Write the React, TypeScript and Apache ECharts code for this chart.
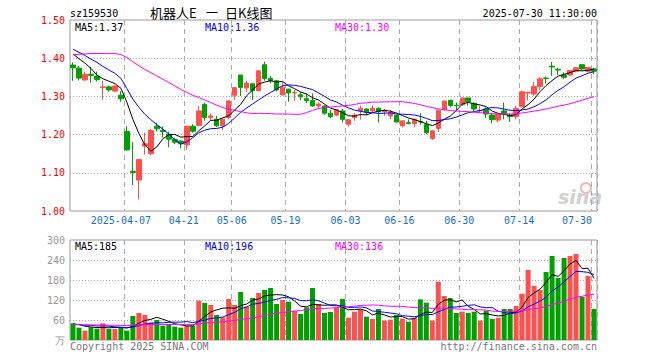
import React, { useEffect, useRef } from 'react';
import * as echarts from 'echarts';

// ---- data ----
const dates = ['2025-03-24','2025-03-25','2025-03-26','2025-03-27','2025-03-28','2025-03-31','2025-04-01','2025-04-02','2025-04-03','2025-04-07','2025-04-08','2025-04-09','2025-04-10','2025-04-11','2025-04-14','2025-04-15','2025-04-16','2025-04-17','2025-04-18','2025-04-21','2025-04-22','2025-04-23','2025-04-24','2025-04-25','2025-04-28','2025-04-29','2025-04-30','2025-05-06','2025-05-07','2025-05-08','2025-05-09','2025-05-12','2025-05-13','2025-05-14','2025-05-15','2025-05-16','2025-05-19','2025-05-20','2025-05-21','2025-05-22','2025-05-23','2025-05-26','2025-05-27','2025-05-28','2025-05-29','2025-05-30','2025-06-03','2025-06-04','2025-06-05','2025-06-06','2025-06-09','2025-06-10','2025-06-11','2025-06-12','2025-06-13','2025-06-16','2025-06-17','2025-06-18','2025-06-19','2025-06-20','2025-06-23','2025-06-24','2025-06-25','2025-06-26','2025-06-27','2025-06-30','2025-07-01','2025-07-02','2025-07-03','2025-07-04','2025-07-07','2025-07-08','2025-07-09','2025-07-10','2025-07-11','2025-07-14','2025-07-15','2025-07-16','2025-07-17','2025-07-18','2025-07-21','2025-07-22','2025-07-23','2025-07-24','2025-07-25','2025-07-28','2025-07-29','2025-07-30'];

const opens = [1.382,1.374,1.343,1.358,1.353,1.323,1.325,1.314,1.303,1.208,
  1.104,1.081,1.170,1.150,1.222,1.211,1.201,1.187,1.183,1.173,
  1.222,1.224,1.279,1.245,1.240,1.223,1.245,1.303,1.356,1.322,
  1.333,1.315,1.383,1.347,1.341,1.304,1.319,1.309,1.304,1.294,
  1.289,1.275,1.275,1.256,1.251,1.262,1.227,1.245,1.262,1.267,
  1.262,1.269,1.260,1.249,1.251,1.223,1.231,1.229,1.234,1.227,
  1.190,1.216,1.265,1.290,1.277,1.278,1.296,1.282,1.262,1.267,
  1.251,1.238,1.262,1.251,1.247,1.273,1.309,1.306,1.326,1.348,
  1.379,1.371,1.356,1.356,1.366,1.383,1.366,1.372];

const closes = [1.375,1.348,1.358,1.355,1.344,1.325,1.317,1.327,1.294,1.160,
  1.101,1.135,1.176,1.211,1.215,1.208,1.188,1.180,1.176,1.222,
  1.209,1.262,1.245,1.249,1.223,1.240,1.288,1.323,1.323,1.335,
  1.315,1.367,1.347,1.341,1.317,1.324,1.309,1.310,1.299,1.289,
  1.275,1.280,1.256,1.247,1.265,1.240,1.239,1.251,1.269,1.258,
  1.269,1.260,1.262,1.258,1.233,1.236,1.229,1.240,1.233,1.205,
  1.210,1.264,1.288,1.276,1.276,1.296,1.286,1.267,1.263,1.254,
  1.239,1.254,1.255,1.247,1.268,1.312,1.311,1.326,1.346,1.347,
  1.377,1.369,1.350,1.368,1.375,1.372,1.376,1.366];

const lows = [1.341,1.342,1.341,1.336,1.339,1.291,1.312,1.312,1.286,1.158,
  1.068,1.030,1.148,1.146,1.208,1.192,1.167,1.175,1.164,1.160,
  1.205,1.222,1.236,1.236,1.220,1.212,1.240,1.291,1.301,1.312,
  1.291,1.313,1.341,1.334,1.313,1.302,1.286,1.289,1.290,1.283,
  1.273,1.266,1.252,1.243,1.248,1.232,1.221,1.236,1.239,1.251,
  1.260,1.232,1.249,1.240,1.232,1.219,1.227,1.219,1.226,1.201,
  1.186,1.207,1.263,1.271,1.262,1.276,1.276,1.260,1.256,1.244,
  1.230,1.232,1.240,1.233,1.240,1.271,1.289,1.302,1.317,1.334,
  1.354,1.356,1.346,1.354,1.363,1.368,1.363,1.359];

const highs = [1.389,1.380,1.365,1.377,1.365,1.341,1.328,1.330,1.314,1.222,
  1.180,1.136,1.205,1.214,1.231,1.222,1.208,1.192,1.185,1.222,
  1.227,1.275,1.284,1.255,1.249,1.242,1.290,1.324,1.356,1.340,
  1.333,1.367,1.391,1.354,1.343,1.337,1.320,1.317,1.311,1.308,
  1.308,1.284,1.275,1.265,1.267,1.267,1.240,1.256,1.276,1.269,
  1.277,1.271,1.267,1.264,1.251,1.236,1.240,1.242,1.256,1.236,
  1.210,1.264,1.288,1.290,1.284,1.296,1.296,1.284,1.276,1.271,
  1.254,1.254,1.284,1.255,1.276,1.315,1.311,1.337,1.350,1.352,
  1.390,1.375,1.363,1.368,1.375,1.383,1.376,1.375];

// volume, 万
const volumes = [50,37,28,38,34,50,33,33,37,28,
  72,81,75,53,60,43,48,40,37,43,
  43,118,111,105,75,68,123,105,144,100,
  126,141,150,156,108,120,115,87,78,98,
  156,108,81,84,97,123,67,85,92,70,
  63,93,58,61,75,64,55,66,122,112,
  58,175,132,126,81,85,81,85,58,88,
  63,67,93,93,102,139,210,162,150,204,
  252,186,246,252,258,129,192,93];

// 29 sessions before the first shown day (estimated from the start of the MA curves)
const prevCloses = [1.33,1.32,1.33,1.34,1.33,1.32,1.33,1.36,1.40,1.43,
  1.45,1.47,1.46,1.48,1.46,1.45,1.44,1.46,1.45,1.44,
  1.43,1.44,1.45,1.43,1.43,1.41,1.415,1.425,1.43];
const prevVolumes = [48,52,40,45,55,42,38,50,46,44,
  60,41,39,47,52,43,45,38,50,42,
  48,46,40,55,47,44,52,50,42];

const labelDates = ['2025-04-07','2025-04-21','2025-05-06','2025-05-19','2025-06-03','2025-06-16','2025-06-30','2025-07-14','2025-07-30'];
const maPeriods = [5, 10, 30];
const maColors = ['#000000', '#0000ff', '#ff00ff'];

const RED = '#ff5050';
const GREEN = '#00a000';
const MONO = 'DejaVu Sans Mono';

function movingAvg(all: number[], n: number, offset: number): number[] {
  const out: number[] = [];
  for (let end = offset; end < all.length; end++) {
    let s = 0;
    for (let k = end - n + 1; k <= end; k++) s += all[k];
    out.push(s / n);
  }
  return out;
}

function buildOption() {
  const allCloses = prevCloses.concat(closes);
  const allVols = prevVolumes.concat(volumes);
  const off = prevCloses.length;
  const priceMA = maPeriods.map((p) => movingAvg(allCloses, p, off));
  const volMA = maPeriods.map((p) => movingAvg(allVols, p, off));
  const labelIdx = new Set(labelDates.map((d) => dates.indexOf(d)));
  const firstIdx = dates.indexOf(labelDates[0]);
  const lastIdx = dates.length - 1;

  const candleData = dates.map((_, i) => [opens[i], closes[i], lows[i], highs[i]]);
  const volData = volumes.map((v, i) => ({
    value: v,
    itemStyle: { color: closes[i] >= opens[i] ? RED : GREEN },
  }));

  const splitV = {
    show: true,
    interval: (i: number) => labelIdx.has(i),
    lineStyle: { color: '#aaaaaa', type: [5, 4], width: 1 },
  };

  const xCommon = {
    type: 'category',
    data: dates,
    boundaryGap: true,
    axisLine: { show: false },
    axisTick: { show: false },
    splitLine: splitV,
  };

  const lastP = priceMA.map((a) => a[a.length - 1]);
  const lastV = volMA.map((a) => a[a.length - 1]);
  const legendX = [75, 205, 335];
  const font = `10px "${MONO}"`;

  const graphics: any[] = [
    { type: 'text', x: 70, y: 13, style: { text: 'sz159530', fill: '#000', font, textVerticalAlign: 'middle' } },
    { type: 'text', x: 150, y: 12, style: { text: '机器人E', fill: '#000', font: '13px "Noto Sans CJK SC"', textVerticalAlign: 'middle' } },
    { type: 'text', x: 212, y: 12, style: { text: '一', fill: '#000', font: '12px "Noto Sans CJK SC"', textAlign: 'center', textVerticalAlign: 'middle' } },
    { type: 'text', x: 225, y: 12, style: { text: '日K线图', fill: '#000', font: '13px "Noto Sans CJK SC"', textVerticalAlign: 'middle' } },
    { type: 'text', x: 597, y: 13, style: { text: '2025-07-30 11:30:00', fill: '#000', font, textAlign: 'right', textVerticalAlign: 'middle' } },
    { type: 'text', x: 70, y: 346, style: { text: 'Copyright 2025 SINA.COM', fill: '#777', font, textVerticalAlign: 'middle' } },
    { type: 'text', x: 597, y: 346, style: { text: 'http://finance.sina.com.cn', fill: '#777', font, textAlign: 'right', textVerticalAlign: 'middle' } },
    { type: 'circle', shape: { cx: 586, cy: 188, r: 5 }, style: { fill: 'none', stroke: '#f3b8b8', lineWidth: 2 } },
    { type: 'text', x: 580, y: 197, style: { text: 'sina', fill: '#d0d0d0', font: 'italic bold 19px "DejaVu Sans"', textAlign: 'center', textVerticalAlign: 'middle' } },
  ];
  maPeriods.forEach((p, k) => {
    graphics.push({ type: 'text', x: legendX[k], y: 27, style: { text: `MA${p}:${lastP[k].toFixed(2)}`, fill: maColors[k], font, textVerticalAlign: 'middle' } });
    graphics.push({ type: 'text', x: legendX[k], y: 246, style: { text: `MA${p}:${Math.round(lastV[k])}`, fill: maColors[k], font, textVerticalAlign: 'middle' } });
  });

  const series: any[] = [
    {
      type: 'candlestick',
      xAxisIndex: 0,
      yAxisIndex: 0,
      data: candleData,
      barWidth: 5,
      itemStyle: { color: RED, color0: GREEN, borderColor: RED, borderColor0: GREEN, borderWidth: 1 },
      z: 2,
    },
    {
      type: 'bar',
      xAxisIndex: 1,
      yAxisIndex: 1,
      data: volData,
      barWidth: 5,
      z: 2,
    },
  ];
  maPeriods.forEach((p, k) => {
    series.push({
      type: 'line', xAxisIndex: 0, yAxisIndex: 0, data: priceMA[k], showSymbol: false, symbol: 'none',
      lineStyle: { color: maColors[k], width: 1 }, z: 3,
    });
    series.push({
      type: 'line', xAxisIndex: 1, yAxisIndex: 1, data: volMA[k], showSymbol: false, symbol: 'none',
      lineStyle: { color: maColors[k], width: 1 }, z: 3,
    });
  });

  return {
    animation: false,
    backgroundColor: '#ffffff',
    textStyle: { fontFamily: MONO },
    grid: [
      { left: 70, top: 20, width: 527, height: 191, show: true, borderColor: '#999999', borderWidth: 1, backgroundColor: 'transparent' },
      { left: 70, top: 240, width: 527, height: 100, show: true, borderColor: '#999999', borderWidth: 1, backgroundColor: 'transparent' },
    ],
    xAxis: [
      {
        ...xCommon,
        gridIndex: 0,
        axisLabel: {
          show: true,
          interval: (i: number) => labelIdx.has(i),
          color: '#1a6fc9',
          fontFamily: MONO,
          fontSize: 10,
          margin: 4,
          alignMaxLabel: 'right',
          formatter: (v: string, i: number) => {
            if (i === lastIdx) return `{e|${v.slice(5)}}`;
            if (i === firstIdx) return `{f|${v}}`;
            return `{s|${v.slice(5)}}`;
          },
          rich: {
            f: { padding: [0, 12, 0, 0], color: '#1a6fc9', fontFamily: MONO, fontSize: 10 },
            s: { padding: [0, 6, 0, 0], color: '#1a6fc9', fontFamily: MONO, fontSize: 10 },
            e: { padding: [0, 2, 0, 0], color: '#1a6fc9', fontFamily: MONO, fontSize: 10 },
          },
        },
      },
      { ...xCommon, gridIndex: 1, axisLabel: { show: false } },
    ],
    yAxis: [
      {
        type: 'value', gridIndex: 0, min: 1.0, max: 1.5, interval: 0.1,
        axisLine: { show: false }, axisTick: { show: false },
        axisLabel: { color: '#ff0000', fontFamily: MONO, fontSize: 10, margin: 5, formatter: (v: number) => v.toFixed(2) },
        splitLine: { show: true, showMinLine: false, showMaxLine: false, lineStyle: { color: '#aaaaaa', type: [1, 2], width: 1 } },
      },
      {
        type: 'value', gridIndex: 1, min: 0, max: 300, interval: 60,
        axisLine: { show: false }, axisTick: { show: false },
        axisLabel: { color: '#999999', fontFamily: MONO, fontSize: 10, margin: 5, formatter: (v: number) => (v === 0 ? '万' : String(v)) },
        splitLine: { show: true, showMinLine: false, showMaxLine: false, lineStyle: { color: '#aaaaaa', type: [1, 2], width: 1 } },
      },
    ],
    graphic: graphics,
    series,
  };
}

export default function App() {
  const ref = useRef<HTMLDivElement>(null);
  useEffect(() => {
    if (!ref.current) return;
    const chart = echarts.init(ref.current, null, { renderer: 'svg' });
    chart.setOption(buildOption() as any);
    return () => chart.dispose();
  }, []);
  return (
    <div
      ref={ref}
      style={{ position: 'fixed', left: 0, top: 0, width: 660, height: 360, background: '#fff' }}
    />
  );
}
